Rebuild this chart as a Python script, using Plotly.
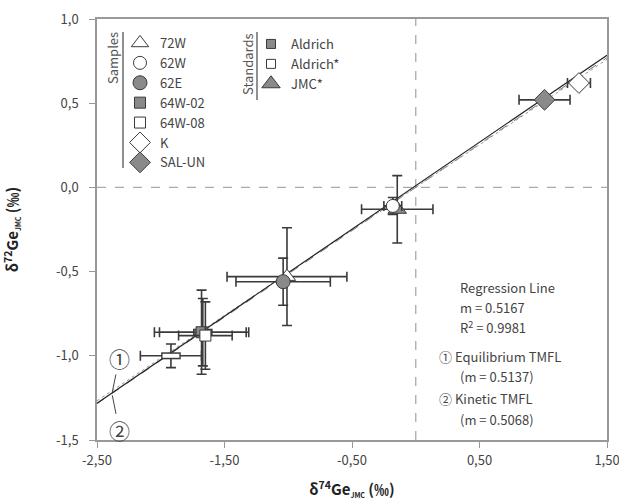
import plotly.graph_objects as go

FONT = "Noto Sans CJK JP, Open Sans, sans-serif"
DARK = "#3a3a3a"
GRAY = "#8a8a8a"

# ---------------- data ----------------
sample_names = ["72W", "62W", "62E", "64W-02", "64W-08", "K", "SAL-UN"]
sample_x = [-1.01, -0.18, -1.04, -1.68, -1.65, 1.28, 1.01]
sample_y = [-0.53, -0.11, -0.56, -0.86, -0.88, 0.62, 0.52]
sample_xerr = [0.47, 0.07, 0.37, 0.37, 0.21, 0.09, 0.20]
sample_yerr = [0.29, 0.05, 0.14, 0.25, 0.20, 0.02, 0.02]

standard_names = ["Aldrich", "Aldrich*", "JMC*"]
standard_x = [-1.67, -1.92, -0.145]
standard_y = [-0.86, -1.00, -0.13]
standard_xerr = [0.34, 0.24, 0.28]
standard_yerr = [0.20, 0.07, 0.20]

reg_slope = 0.5167
reg_intercept = 0.01
reg_r2 = 0.9981
eq_slope = 0.5137
kin_slope = 0.5068

x_range = [-2.5, 1.5]
y_range = [-1.5, 1.0]
x_ticks = [-2.5, -1.5, -0.5, 0.5, 1.5]
x_tick_labels = ["-2,50", "-1,50", "-0,50", "0,50", "1,50"]
y_ticks = [-1.5, -1.0, -0.5, 0.0, 0.5, 1.0]
y_tick_labels = ["-1,5", "-1,0", "-0,5", "0,0", "0,5", "1,0"]

# ---------------- styles ----------------
sample_styles = {
    "72W": dict(symbol="triangle-up", color="white", size=15),
    "62W": dict(symbol="circle", color="white", size=13),
    "62E": dict(symbol="circle", color=GRAY, size=14),
    "64W-02": dict(symbol="square", color=GRAY, size=11),
    "64W-08": dict(symbol="square", color="white", size=11),
    "K": dict(symbol="diamond", color="white", size=16),
    "SAL-UN": dict(symbol="diamond", color=GRAY, size=16),
}

# plot-area geometry in page pixels (used only to place decorations in paper coords)
W, H = 619, 501
PL, PR, PT, PB = 97, 607, 19, 440


def px(xabs):
    return (xabs - PL) / (PR - PL)


def py(yabs):
    return (PB - yabs) / (PB - PT)


fig = go.Figure()

# lines
line_x = [x_range[0], x_range[1]]
fig.add_trace(go.Scatter(x=line_x, y=[eq_slope * v for v in line_x], mode="lines",
                         line=dict(color="#777", width=1, dash="dash"), showlegend=False, hoverinfo="skip"))
fig.add_trace(go.Scatter(x=line_x, y=[kin_slope * v for v in line_x], mode="lines",
                         line=dict(color="#999", width=1, dash="dot"), showlegend=False, hoverinfo="skip"))
fig.add_trace(go.Scatter(x=line_x, y=[reg_slope * v + reg_intercept for v in line_x], mode="lines",
                         line=dict(color="#222", width=1.2), showlegend=False, hoverinfo="skip"))


def err(arr):
    return dict(type="data", array=[arr], color=DARK, thickness=1.6, width=5)


# standards (error bars + rectangle markers)
for i, name in enumerate(standard_names):
    xs, ys = [standard_x[i]], [standard_y[i]]
    if name == "JMC*":
        fig.add_trace(go.Scatter(
            x=xs, y=ys, mode="markers", name=name, legend="legend2",
            error_x=err(standard_xerr[i]), error_y=err(standard_yerr[i]),
            marker=dict(symbol="triangle-up", size=16, color=GRAY, line=dict(color=DARK, width=1))))
    else:
        inner = GRAY if name == "Aldrich" else "white"
        fig.add_trace(go.Scatter(
            x=xs, y=ys, mode="markers", showlegend=False,
            error_x=err(standard_xerr[i]), error_y=err(standard_yerr[i]),
            marker=dict(symbol="line-ew", size=14, line=dict(color=DARK, width=7))))
        fig.add_trace(go.Scatter(
            x=xs, y=ys, mode="markers", showlegend=False,
            marker=dict(symbol="line-ew", size=12, line=dict(color=inner, width=4))))
        # legend-only entry
        fig.add_trace(go.Scatter(
            x=[None], y=[None], mode="markers", name=name, legend="legend2",
            marker=dict(symbol="square", size=9, color=inner, line=dict(color=DARK, width=1))))

# samples
for i, name in enumerate(sample_names):
    st = sample_styles[name]
    fig.add_trace(go.Scatter(
        x=[sample_x[i]], y=[sample_y[i]], mode="markers", name=name, legend="legend",
        error_x=err(sample_xerr[i]), error_y=err(sample_yerr[i]),
        marker=dict(symbol=st["symbol"], size=st["size"], color=st["color"],
                    line=dict(color=DARK, width=1))))

# dashed zero lines
fig.add_shape(type="line", x0=0, x1=0, y0=0, y1=1, xref="x", yref="paper",
              line=dict(color="#aaa", width=1.3, dash="dash"), layer="below")
fig.add_shape(type="line", x0=0, x1=1, y0=0, y1=0, xref="paper", yref="y",
              line=dict(color="#aaa", width=1.3, dash="dash"), layer="below")

# legend decorations
fig.add_shape(type="line", x0=px(123), x1=px(123), y0=py(32), y1=py(168),
              xref="paper", yref="paper", line=dict(color="#555", width=1.3))
fig.add_shape(type="line", x0=px(257), x1=px(257), y0=py(32), y1=py(100),
              xref="paper", yref="paper", line=dict(color="#555", width=1.3))
fig.add_annotation(text="Samples", textangle=-90, x=px(113), y=py(58),
                   xref="paper", yref="paper", xanchor="center", yanchor="middle", showarrow=False,
                   font=dict(size=13, color="#555", family=FONT))
fig.add_annotation(text="Standards", textangle=-90, x=px(247), y=py(64),
                   xref="paper", yref="paper", xanchor="center", yanchor="middle", showarrow=False,
                   font=dict(size=13, color="#555", family=FONT))

# right-hand text
txt_font = dict(size=13, color="#444", family=FONT)
right_lines = [
    ("Regression Line", 458, 287),
    (f"m = {reg_slope:.4f}", 458, 307),
    (f"R<sup>2</sup> = {reg_r2:.4f}", 458, 327),
    ("① Equilibrium TMFL", 437, 356),
    (f"(m = {eq_slope:.4f})", 458, 376),
    ("② Kinetic TMFL", 437, 398),
    (f"(m = {kin_slope:.4f})", 458, 419),
]
for t, xa, ya in right_lines:
    fig.add_annotation(text=t, x=px(xa), y=py(ya), xref="paper", yref="paper",
                       xanchor="left", yanchor="middle", showarrow=False, font=txt_font)

# circled labels with leader lines to the TMFL lines
fig.add_annotation(text="①", x=-2.38, y=-1.215, ax=7, ay=-34, showarrow=True, arrowhead=0,
                   arrowwidth=1, arrowcolor="#444", font=dict(size=21, color="#444", family=FONT))
fig.add_annotation(text="②", x=-2.38, y=-1.235, ax=7, ay=35, showarrow=True, arrowhead=0,
                   arrowwidth=1, arrowcolor="#444", font=dict(size=21, color="#444", family=FONT))

axis_common = dict(showline=True, linecolor="#999", linewidth=1.5, mirror=True, automargin=False,
                   showgrid=False, zeroline=False, ticks="outside", tickcolor="#999",
                   ticklabeloverflow="allow",
                   ticklen=6, tickwidth=1.2, tickfont=dict(size=13, color="#444", family=FONT))

fig.update_layout(
    width=W, height=H,
    margin=dict(l=PL, r=W - PR, t=PT, b=H - PB, autoexpand=False),
    plot_bgcolor="white", paper_bgcolor="white",
    font=dict(family=FONT, color="#333"),
    xaxis=dict(range=x_range, tickvals=x_ticks, ticktext=x_tick_labels, ticklabelstandoff=2,
               title=dict(text="<b>δ<sup>74</sup>Ge<sub><span style='font-size:7px'>JMC</span></sub> (‰)</b>",
                          font=dict(size=15, color="#222", family=FONT), standoff=16),
               **axis_common),
    yaxis=dict(range=y_range, tickvals=y_ticks, ticktext=y_tick_labels, ticklabelstandoff=8,
               title=dict(text="<b>δ<sup>72</sup>Ge<sub><span style='font-size:7px'>JMC</span></sub> (‰)</b>",
                          font=dict(size=15, color="#222", family=FONT), standoff=36),
               **axis_common),
    legend=dict(x=px(120), y=py(28), xanchor="left", yanchor="top", bgcolor="rgba(0,0,0,0)",
                font=dict(size=13, color="#444", family=FONT), itemwidth=30, borderwidth=0),
    legend2=dict(x=px(251), y=py(29), xanchor="left", yanchor="top", bgcolor="rgba(0,0,0,0)",
                 font=dict(size=13, color="#444", family=FONT), itemwidth=30, borderwidth=0),
    showlegend=True,
)

# remove the browser's default page margin so the figure sits at the window origin
fig.write_html("out.html", config={"displayModeBar": False},
               post_script="document.body.style.margin='0';document.body.style.overflow='hidden';")
